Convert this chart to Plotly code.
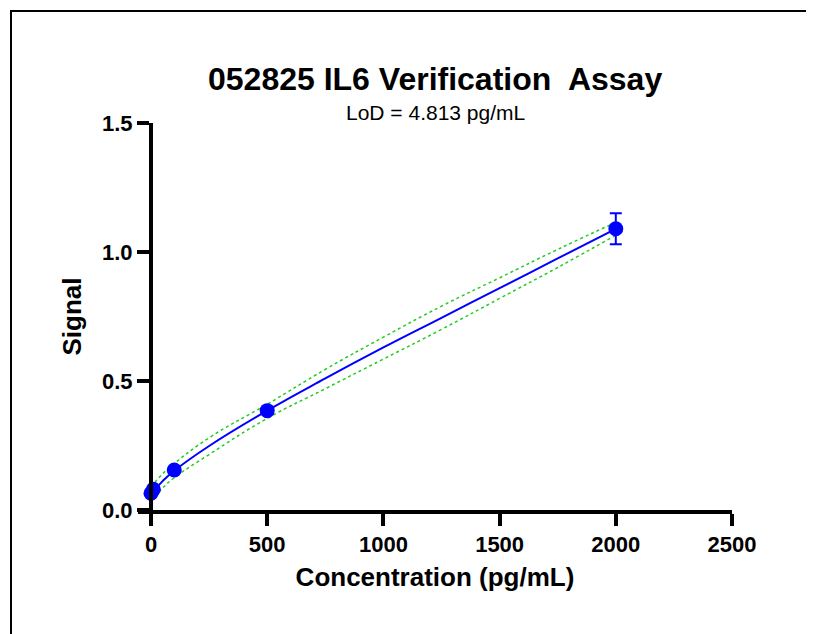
import plotly.graph_objects as go

conc = [0, 10, 100, 500, 2000]
signal = [0.065, 0.08, 0.155, 0.385, 1.09]
err = [0.005, 0.005, 0.01, 0.01, 0.06]
fit_x = [0, 50, 100, 250, 500, 750, 1000, 1250, 1500, 1750, 2000]
fit_y = [0.062, 0.112, 0.152, 0.248, 0.385, 0.51, 0.63, 0.745, 0.86, 0.975, 1.09]
upper = [0.09, 0.14, 0.18, 0.28, 0.41, 0.545, 0.67, 0.79, 0.9, 1.01, 1.115]
lower = [0.035, 0.085, 0.125, 0.215, 0.355, 0.47, 0.585, 0.70, 0.82, 0.94, 1.065]

fig = go.Figure()
fig.add_trace(go.Scatter(x=fit_x, y=upper, mode="lines", line=dict(color="#22cc22", dash="dot", width=1.5, shape="spline", smoothing=1.3)))
fig.add_trace(go.Scatter(x=fit_x, y=lower, mode="lines", line=dict(color="#22cc22", dash="dot", width=1.5, shape="spline", smoothing=1.3)))
fig.add_trace(go.Scatter(x=fit_x, y=fit_y, mode="lines", line=dict(color="#0000ff", width=2, shape="spline", smoothing=1.3)))
fig.add_trace(go.Scatter(x=conc, y=signal, mode="markers",
                         marker=dict(color="#0000ff", size=15),
                         error_y=dict(type="data", array=err, color="#0000ff", thickness=2, width=6)))

axfont = dict(family="Arial, Liberation Sans", size=26, color="black", weight="bold")
tickfont = dict(family="Arial, Liberation Sans", size=22, color="black", weight="bold")
fig.update_layout(
    width=814, height=634, showlegend=False,
    plot_bgcolor="white", paper_bgcolor="white",
    margin=dict(l=130, r=90, t=115, b=132, autoexpand=False),
    font=dict(family="Arial, Liberation Sans"),
    xaxis=dict(range=[-56, 2500], tickvals=[0, 500, 1000, 1500, 2000, 2500], showgrid=False, zeroline=False,
               showline=True, linecolor="black", linewidth=4, ticks="outside", ticklen=12, tickwidth=4,
               tickcolor="black", tickfont=tickfont, automargin=False,
               title=dict(text="Concentration (pg/mL)", font=axfont, standoff=12)),
    yaxis=dict(range=[0, 1.5], tickvals=[0, 0.5, 1.0, 1.5], ticktext=["0.0", "0.5", "1.0", "1.5"],
               showgrid=False, zeroline=False, automargin=False,
               showline=True, linecolor="black", linewidth=4, ticks="outside", ticklen=12, tickwidth=4,
               tickcolor="black", tickfont=tickfont, anchor="free", position=56/2556,
               title=dict(text="Signal", font=axfont, standoff=12)),
    shapes=[dict(type="rect", xref="paper", yref="paper", x0=-127/594, x1=1+87/594,
                 y0=-129/387, y1=1+112/387, line=dict(color="black", width=2))],
    annotations=[
        dict(text="<b>052825 IL6 Verification  Assay</b>", xref="paper", yref="paper", x=0.5, y=1+64/387,
             showarrow=False, font=dict(size=32, color="black")),
        dict(text="LoD = 4.813 pg/mL", xref="paper", yref="paper", x=0.5, y=1+24/387,
             showarrow=False, font=dict(size=21, color="black")),
    ],
)
fig.write_html("out.html")
